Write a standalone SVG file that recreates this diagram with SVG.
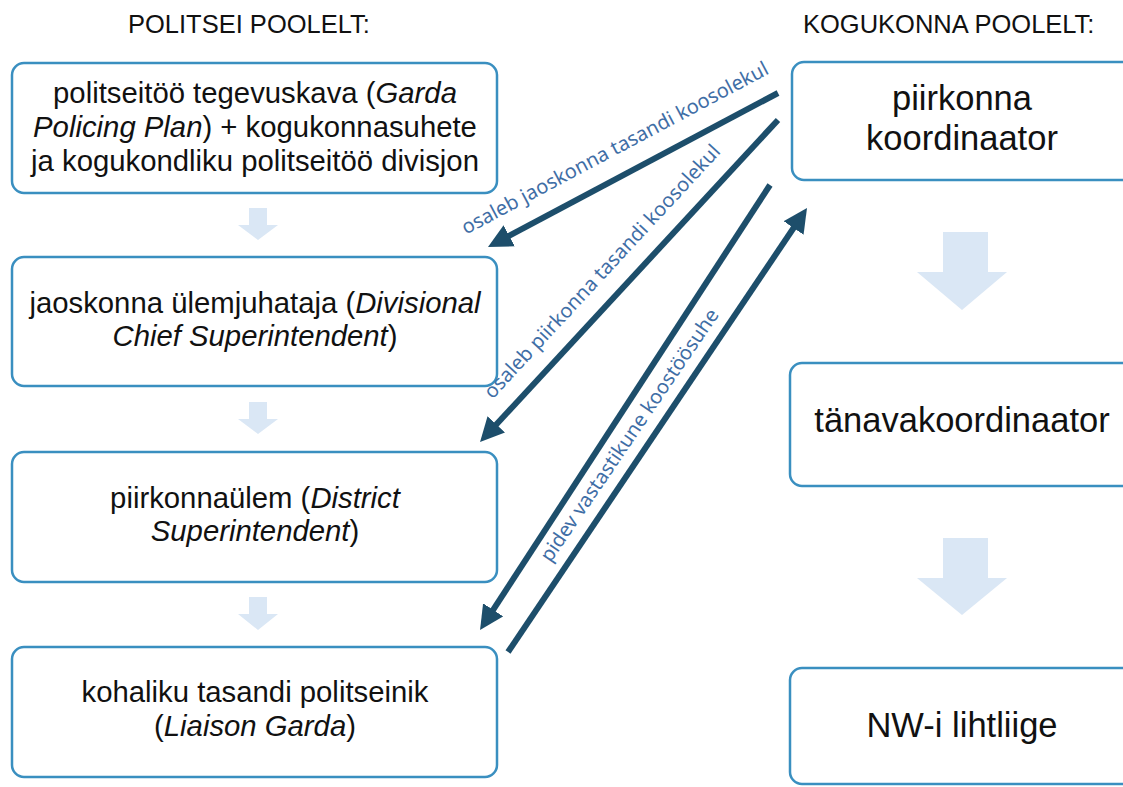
<svg xmlns="http://www.w3.org/2000/svg" width="1123" height="787" viewBox="0 0 1123 787">
<defs>
<style>
.box{fill:#ffffff;stroke:#3a8fc0;stroke-width:2.5}
.t{font-family:"Liberation Sans",Arial,sans-serif;fill:#111111;text-anchor:middle}
.tl{font-size:29.3px}
.tr{font-size:34.5px}
.title{font-family:"Liberation Sans",Arial,sans-serif;font-size:25.5px;fill:#111111}
.lab{font-family:"Noto Sans","Liberation Sans",sans-serif;font-size:20px;fill:#3f6ea6;text-anchor:middle}
.conn{stroke:#1d4e6b;stroke-width:6;fill:none;marker-end:url(#ah)}
.flow{fill:#dae7f5}
</style>
<marker id="ah" viewBox="0 0 10 10" refX="5" refY="5" markerWidth="4" markerHeight="4" orient="auto" markerUnits="strokeWidth">
<path d="M0,0 L10,5 L0,10 z" fill="#1d4e6b"/>
</marker>
</defs>
<rect x="0" y="0" width="1123" height="787" fill="#ffffff"/>

<text class="title" x="128" y="33">POLITSEI POOLELT:</text>
<text class="title" x="803" y="33">KOGUKONNA POOLELT:</text>

<g id="n1">
<rect class="box" x="12" y="63" width="485" height="130" rx="12"/>
<text class="t tl" x="255" y="103">politseitöö tegevuskava (<tspan font-style="italic">Garda</tspan></text>
<text class="t tl" x="255" y="137"><tspan font-style="italic">Policing Plan</tspan>) + kogukonnasuhete</text>
<text class="t tl" x="255" y="171">ja kogukondliku politseitöö divisjon</text>
</g>
<g id="n2">
<rect class="box" x="12" y="257" width="485" height="129" rx="12"/>
<text class="t tl" x="255" y="313">jaoskonna ülemjuhataja (<tspan font-style="italic">Divisional</tspan></text>
<text class="t tl" x="255" y="346"><tspan font-style="italic">Chief Superintendent</tspan>)</text>
</g>
<g id="n3">
<rect class="box" x="12" y="452" width="485" height="130" rx="12"/>
<text class="t tl" x="255" y="508">piirkonnaülem (<tspan font-style="italic">District</tspan></text>
<text class="t tl" x="255" y="541"><tspan font-style="italic">Superintendent</tspan>)</text>
</g>
<g id="n4">
<rect class="box" x="12" y="647" width="485" height="130" rx="12"/>
<text class="t tl" x="255" y="702">kohaliku tasandi politseinik</text>
<text class="t tl" x="255" y="736">(<tspan font-style="italic">Liaison Garda</tspan>)</text>
</g>

<g id="r1">
<rect class="box" x="792" y="62" width="360" height="118" rx="12"/>
<text class="t tr" x="962" y="110">piirkonna</text>
<text class="t tr" x="962" y="150">koordinaator</text>
</g>
<g id="r2">
<rect class="box" x="790" y="363" width="360" height="123" rx="12"/>
<text class="t tr" x="962" y="432">tänavakoordinaator</text>
</g>
<g id="r3">
<rect class="box" x="790" y="668" width="360" height="116" rx="12"/>
<text class="t tr" x="962" y="737">NW-i lihtliige</text>
</g>

<g id="flow-arrows">
<path class="flow" d="M249,208 H267 V225 H278 L258,240 L238,225 H249 Z"/>
<path class="flow" d="M249,402 H267 V419 H278 L258,434 L238,419 H249 Z"/>
<path class="flow" d="M249,597 H267 V614 H278 L258,630 L238,614 H249 Z"/>
<path class="flow" d="M943,232 H988 V272 H1007 L962,310 L917,272 H943 Z"/>
<path class="flow" d="M943,538 H988 V578 H1007 L962,615 L917,578 H943 Z"/>
</g>

<g id="connectors">
<line class="conn" x1="778" y1="93" x2="498.6" y2="241.4"/>
<line class="conn" x1="778" y1="120" x2="488.2" y2="433.2"/>
<line class="conn" x1="770" y1="185" x2="486.6" y2="619.9"/>
<line class="conn" x1="508" y1="652" x2="800.3" y2="218"/>
<text class="lab" transform="translate(618,154) rotate(-28)">osaleb jaoskonna tasandi koosolekul</text>
<text class="lab" transform="translate(607,276) rotate(-47.2)">osaleb piirkonna tasandi koosolekul</text>
<text class="lab" transform="translate(635,439) rotate(-55.8)">pidev vastastikune koostöösuhe</text>
</g>
</svg>
